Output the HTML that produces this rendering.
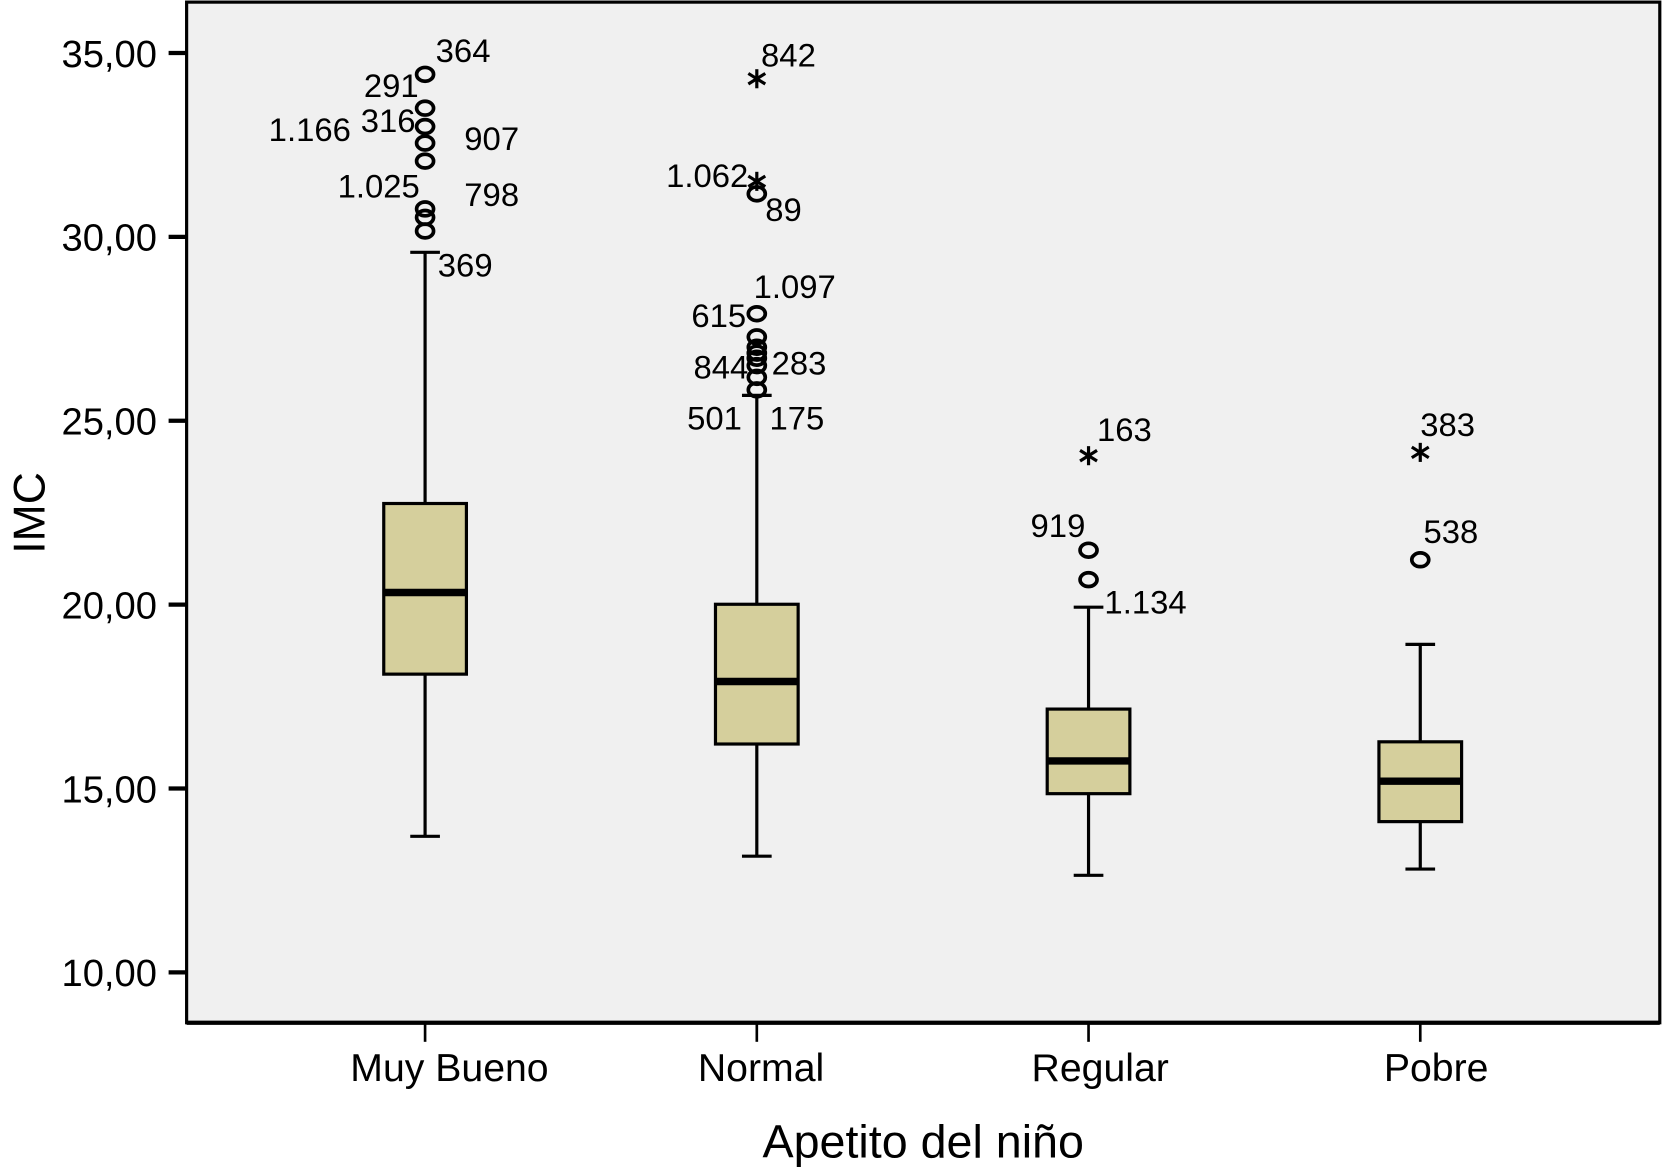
<!DOCTYPE html>
<html><head><meta charset="utf-8"><style>
html,body{margin:0;padding:0;background:#fff;}
svg{display:block;font-family:"Liberation Sans",Arial,sans-serif;}
</style></head><body>
<svg id="chart" width="1662" height="1169" viewBox="0 0 1568 1103" xmlns="http://www.w3.org/2000/svg">
<rect x="176" y="2" width="1390" height="963" fill="#f0f0f0" stroke="#000" stroke-width="3"/>
<line x1="176" y1="965" x2="1566" y2="965" stroke="#000" stroke-width="4"/>
<g id="axes"></g>
<g id="marks"></g>
<text transform="translate(42,484) rotate(-90)" text-anchor="middle" font-size="42">IMC</text>
<text x="871" y="1092" text-anchor="middle" font-size="44">Apetito del niño</text>
</svg>
<script>
const categories = ["Muy Bueno","Normal","Regular","Pobre"];
const whiskerLow = [13.7, 13.16, 12.64, 12.81];
const q1 = [18.11, 16.21, 14.86, 14.1];
const medians = [20.33, 17.91, 15.75, 15.2];
const q3 = [22.75, 20.01, 17.16, 16.27];
const whiskerHigh = [29.58, 25.69, 19.93, 18.92];
const yTicks = [10, 15, 20, 25, 30, 35];
const yTickLabels = ["10,00","15,00","20,00","25,00","30,00","35,00"];
const circleOutliers = [
 [0,34.42],[0,33.5],[0,33.0],[0,32.55],[0,32.06],[0,30.76],[0,30.53],[0,30.16],
 [1,31.17],[1,27.91],[1,27.28],[1,27.0],[1,26.84],[1,26.7],[1,26.5],[1,26.18],[1,25.84],
 [2,21.48],[2,20.68],
 [3,21.22]
];
const starOutliers = [[1,34.3],[1,31.51],[2,24.05],[3,24.14]];
const outlierLabels = [
 [0,"364",34.9],[0,"291",33.95],[0,"1.166",32.75],[0,"316",33.0],[0,"907",32.5],[0,"1.025",31.22],[0,"798",30.99],[0,"369",29.07],
 [1,"842",34.78],[1,"1.062",31.5],[1,"89",30.58],[1,"1.097",28.48],[1,"615",27.7],[1,"844",26.29],[1,"283",26.4],[1,"501",24.9],[1,"175",24.9],
 [2,"163",24.6],[2,"919",21.98],[2,"1.134",19.9],
 [3,"383",24.73],[3,"538",21.82]
];
const labelLayout = [
 [10,"start"],[-6,"end"],[-70,"end"],[-9,"end"],[37,"start"],[-5,"end"],[37,"start"],[12,"start"],
 [4,"start"],[-8,"end"],[8,"start"],[-3,"start"],[-10,"end"],[-8,"end"],[14,"start"],[-14,"end"],[12,"start"],
 [8,"start"],[-3,"end"],[15,"start"],
 [0,"start"],[3,"start"]
];
const catLabelDx = [23, 4, 11, 15];
const NS="http://www.w3.org/2000/svg";
const yS = v => 50 + (35 - v) * 34.7;
const xS = i => 401 + i * 313;
function mk(tag, attrs, parent){const e=document.createElementNS(NS,tag);for(const k in attrs)e.setAttribute(k,attrs[k]);parent.appendChild(e);return e;}
const axes=document.getElementById('axes'), marks=document.getElementById('marks');
yTicks.forEach((t,i)=>{
 const l=mk('line',{x1:159,x2:176,y1:yS(t),y2:yS(t),stroke:'#000','stroke-width':4},axes);
 
 
 const tx=mk('text',{x:148,y:yS(t)+13,'text-anchor':'end','font-size':36},axes);
 tx.textContent=yTickLabels[i];
 
 
});
categories.forEach((c,i)=>{
 const x=xS(i);
 const l=mk('line',{x1:x,x2:x,y1:965,y2:983,stroke:'#000','stroke-width':2.5},axes);
 
 
 const tx=mk('text',{x:x+catLabelDx[i],y:1020,'text-anchor':'middle','font-size':37},axes);
 tx.textContent=c;
 
 
 const g=mk('g',{},marks);
 
 
 mk('line',{x1:x,x2:x,y1:yS(whiskerHigh[i]),y2:yS(q3[i]),stroke:'#000','stroke-width':3},g);
 mk('line',{x1:x,x2:x,y1:yS(q1[i]),y2:yS(whiskerLow[i]),stroke:'#000','stroke-width':3},g);
 mk('line',{x1:x-14,x2:x+14,y1:yS(whiskerHigh[i]),y2:yS(whiskerHigh[i]),stroke:'#000','stroke-width':3},g);
 mk('line',{x1:x-14,x2:x+14,y1:yS(whiskerLow[i]),y2:yS(whiskerLow[i]),stroke:'#000','stroke-width':3},g);
 mk('rect',{x:x-39,y:yS(q3[i]),width:78,height:yS(q1[i])-yS(q3[i]),fill:'#d5cf9c',stroke:'#000','stroke-width':3},g);
 mk('line',{x1:x-39,x2:x+39,y1:yS(medians[i]),y2:yS(medians[i]),stroke:'#000','stroke-width':7},g);
});
circleOutliers.forEach(o=>{
 const e=mk('ellipse',{cx:xS(o[0]),cy:yS(o[1]),rx:8,ry:6.5,fill:'none',stroke:'#000','stroke-width':3.5},marks);
 
 
});
starOutliers.forEach(o=>{
 const x=xS(o[0]), y=yS(o[1]);
 const g=mk('g',{stroke:'#000','stroke-width':3},marks);
 
 
 mk('line',{x1:x,x2:x,y1:y-9,y2:y+9},g);
 mk('line',{x1:x-8,x2:x+8,y1:y-5,y2:y+5},g);
 mk('line',{x1:x-8,x2:x+8,y1:y+5,y2:y-5},g);
});
outlierLabels.forEach((o,k)=>{
 const t=mk('text',{x:xS(o[0])+labelLayout[k][0],y:yS(o[2])+5,'text-anchor':labelLayout[k][1],'font-size':31},marks);
 t.textContent=o[1];
 
 
});
</script>
</body></html>
